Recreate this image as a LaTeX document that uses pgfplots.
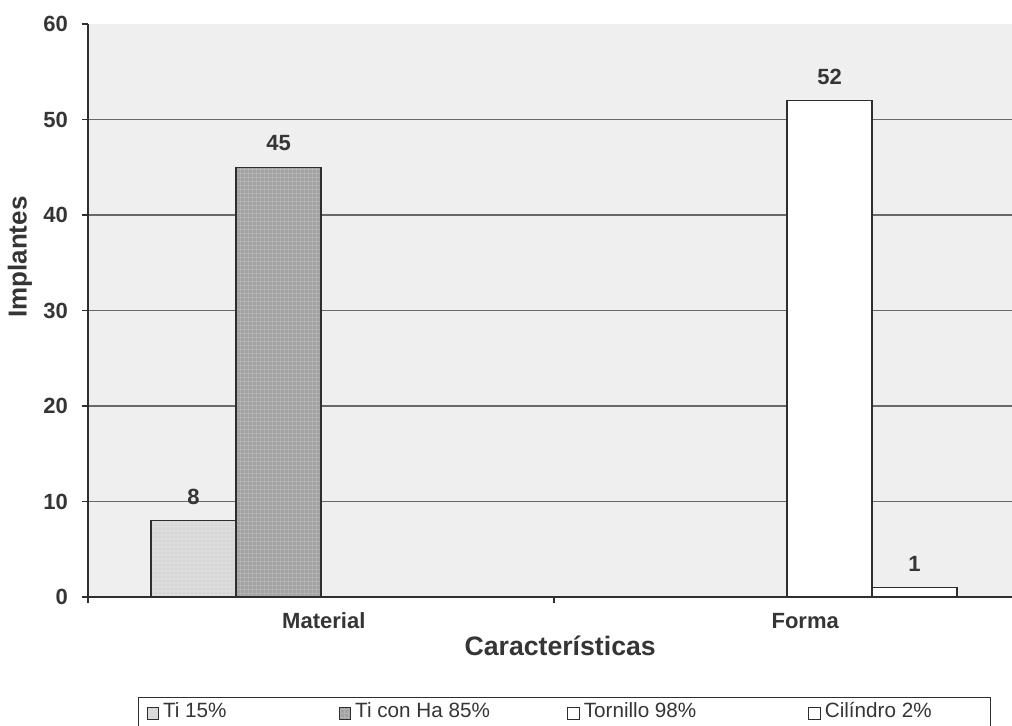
\documentclass[border=0pt]{standalone}
\usepackage{pgfplots}
\pgfplotsset{compat=1.18}
\usepackage{fontspec}
\setmainfont{Liberation Sans}
\usetikzlibrary{patterns}

\definecolor{bgplot}{HTML}{EFEFEF}
\definecolor{txt}{HTML}{353535}
\definecolor{edge}{HTML}{2E2E2E}
\definecolor{tiA}{HTML}{DCDCDC}
\definecolor{tiB}{HTML}{A2A2A2}
\definecolor{gridc}{HTML}{686868}

\pgfplotsset{
  sqleg/.style={legend image code/.code={%
      \draw[##1, line width=0.8pt] (0pt,-1.2pt) rectangle (8.6pt,7.4pt);}},
  barstyle/.style={ybar, bar width=0.1824, bar shift=0pt, draw=edge,
      line width=1.1pt, sqleg,
      nodes near coords,
      every node near coord/.append style={font=\bfseries\fontsize{16.5}{19}\selectfont,
        text=txt, anchor=south, inner sep=0pt, yshift=11.5pt}},
}

\begin{document}
\begin{tikzpicture}
\useasboundingbox (-66pt,-96pt) rectangle (693pt,447.75pt);
\begin{axis}[
  scale only axis,
  width=693pt, height=429.75pt,
  xmin=0, xmax=1.9828, ymin=0, ymax=60,
  axis x line*=bottom, axis y line*=left,
  axis line style={edge, line width=0.9pt, -},
  axis background/.style={fill=bgplot},
  ytick={0,10,...,50},
  extra y ticks={60}, extra y tick style={grid=none},
  ymajorgrids, grid style={gridc, line width=1pt},
  xtick={0.506,1.539}, xticklabels={Material,Forma},
  minor xtick={0,1,2},
  tick align=outside,
  major tick length=4.5pt, minor tick length=4.5pt,
  major x tick style={draw=none},
  tick style={edge, line width=0.8pt},
  ticklabel style={font=\bfseries\fontsize{16.5}{19}\selectfont, text=txt},
  /pgf/number format/assume math mode=true,
  xticklabel style={yshift=-4pt},
  yticklabel style={xshift=-7pt},
  xlabel={Características},
  xlabel style={at={(axis description cs:0.511,-0.0855)}, anchor=center,
    font=\bfseries\fontsize{20}{23}\selectfont, text=txt},
  ylabel={Implantes},
  ylabel style={at={(axis description cs:-0.0736,0.593)}, anchor=center,
    font=\bfseries\fontsize{19.5}{22}\selectfont, text=txt},
  legend columns=4,
  legend style={at={(axis description cs:0.0541,-0.1745)}, anchor=north west,
    draw=edge, line width=0.8pt, inner xsep=6pt, inner ysep=1.5pt,
    font=\fontsize{15.5}{18}\selectfont, text=txt,
    nodes={text height=11.5pt, text depth=3.5pt, anchor=base west},
    /tikz/every odd column/.append style={column sep=1pt},
    /tikz/column 2/.append style={column sep=82pt},
    /tikz/column 4/.append style={column sep=56pt},
    /tikz/column 6/.append style={column sep=82pt}},
]
% Material group
\addplot[barstyle, fill=tiA,
  postaction={pattern=dots, pattern color=black!25}]
  coordinates {(0.2264,8)};
\addlegendentry{Ti 15\%}
\addplot[barstyle, fill=tiB,
  postaction={pattern=grid, pattern color=black!30}]
  coordinates {(0.4088,45)};
\addlegendentry{Ti con Ha 85\%}
% Forma group
\addplot[barstyle, fill=white] coordinates {(1.5912,52)};
\addlegendentry{Tornillo 98\%}
\addplot[barstyle, fill=white] coordinates {(1.7736,1)};
\addlegendentry{Cilíndro 2\%\rule{36pt}{0pt}}
\end{axis}
\end{tikzpicture}
\end{document}
